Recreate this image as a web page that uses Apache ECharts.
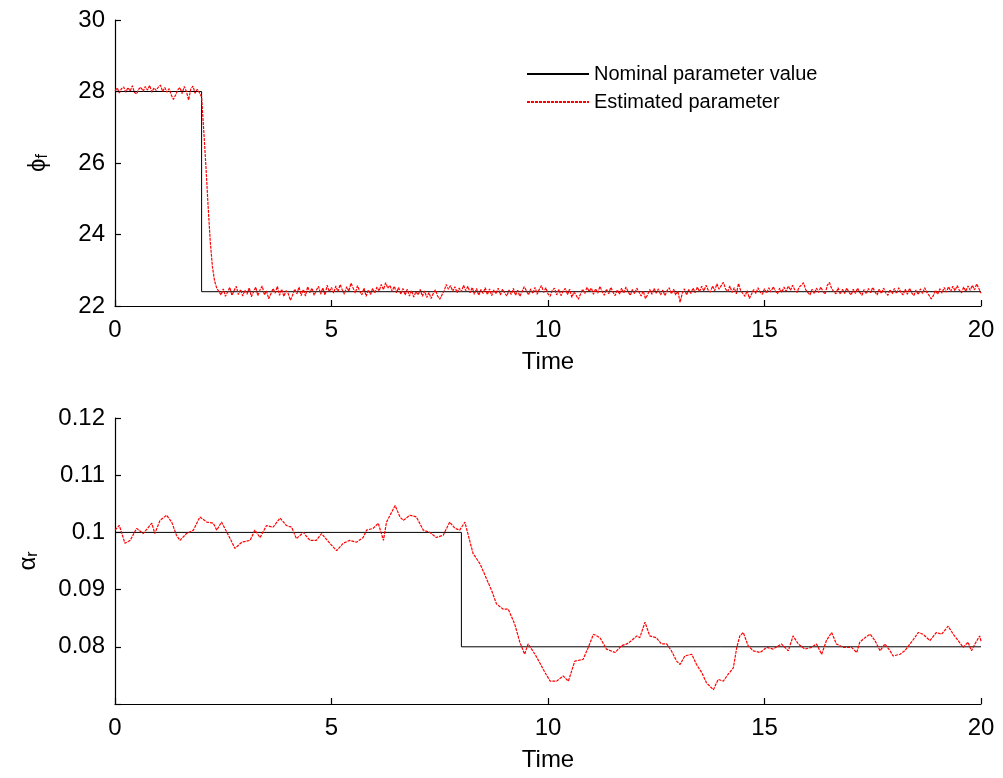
<!DOCTYPE html>
<html>
<head>
<meta charset="utf-8">
<script src="https://cdn.jsdelivr.net/npm/echarts@6/dist/echarts.min.js"></script>
<style>html,body{margin:0;padding:0;background:#fff}#c{width:1003px;height:778px}</style>
</head>
<body>
<div id="c"></div>
<script>
// ---- data ----
const xTicks = [0, 5, 10, 15, 20];
const phiTicks = [22, 24, 26, 28, 30];
const alphaTicks = [0.08, 0.09, 0.1, 0.11, 0.12];

const nominalPhiT = [0, 2, 2, 20];
const nominalPhi = [28, 28, 22.4, 22.4];
const nominalAlphaT = [0, 8, 8, 20];
const nominalAlpha = [0.1, 0.1, 0.08, 0.08];

// estimated phi_f, sampled every 0.05 time units from t = 0 to 20
const phiStep = 0.05;
const phiEst = [
28.02,28.10,27.96,28.08,28.13,27.98,28.11,28.01,28.16,27.97,27.93,28.07,28.12,28.00,28.14,28.04,28.17,27.98,28.10,28.03,
28.12,28.18,28.00,28.11,27.98,28.08,27.90,27.78,27.90,28.05,28.11,27.94,28.14,28.00,27.76,28.07,28.15,27.95,28.06,27.97,
27.85,26.90,25.90,24.80,23.80,23.10,22.70,22.50,22.40,22.31,22.48,22.27,22.39,22.52,22.30,22.43,22.55,22.32,22.46,22.28,
22.44,22.33,22.51,22.26,22.40,22.53,22.29,22.45,22.56,22.31,22.42,22.20,22.34,22.49,22.36,22.55,22.30,22.47,22.27,22.43,
22.35,22.16,22.30,22.47,22.34,22.53,22.29,22.46,22.28,22.54,22.37,22.50,22.30,22.44,22.55,22.33,22.51,22.31,22.58,22.40,
22.52,22.36,22.56,22.40,22.60,22.45,22.33,22.54,22.41,22.64,22.50,22.36,22.57,22.42,22.31,22.50,22.27,22.45,22.32,22.49,
22.36,22.53,22.42,22.60,22.46,22.65,22.50,22.58,22.41,22.55,22.37,22.52,22.33,22.49,22.31,22.47,22.28,22.43,22.25,22.40,
22.31,22.46,22.27,22.42,22.24,22.38,22.21,22.35,22.45,22.28,22.19,22.31,22.42,22.60,22.47,22.57,22.41,22.54,22.37,22.50,
22.40,22.58,22.43,22.55,22.37,22.52,22.33,22.49,22.30,22.46,22.35,22.51,22.32,22.48,22.29,22.45,22.34,22.50,22.31,22.47,
22.36,22.28,22.45,22.32,22.49,22.30,22.44,22.27,22.40,22.54,22.43,22.31,22.48,22.35,22.52,22.33,22.47,22.57,22.38,22.51,
22.34,22.27,22.44,22.50,22.31,22.46,22.29,22.42,22.49,22.32,22.47,22.24,22.39,22.30,22.19,22.33,22.47,22.35,22.52,22.41,
22.50,22.33,22.48,22.36,22.55,22.40,22.30,22.47,22.34,22.52,22.39,22.29,22.45,22.33,22.50,22.36,22.53,22.40,22.30,22.46,
22.34,22.50,22.39,22.28,22.42,22.21,22.31,22.46,22.33,22.49,22.36,22.48,22.31,22.45,22.29,22.43,22.51,22.34,22.47,22.31,
22.42,22.10,22.35,22.48,22.31,22.46,22.35,22.50,22.37,22.53,22.40,22.55,22.42,22.58,22.44,22.39,22.56,22.43,22.62,22.47,
22.57,22.66,22.48,22.40,22.56,22.38,22.51,22.34,22.63,22.43,22.35,22.27,22.43,22.21,22.33,22.46,22.35,22.51,22.39,22.33,
22.48,22.36,22.51,22.39,22.54,22.42,22.34,22.50,22.38,22.53,22.41,22.56,22.44,22.58,22.45,22.38,22.53,22.58,22.65,22.46,
22.38,22.31,22.47,22.35,22.50,22.38,22.53,22.41,22.33,22.58,22.66,22.49,22.40,22.34,22.51,22.33,22.47,22.35,22.50,22.38,
22.31,22.47,22.35,22.50,22.38,22.30,22.46,22.34,22.49,22.37,22.52,22.40,22.31,22.47,22.35,22.50,22.37,22.30,22.46,22.34,
22.49,22.35,22.51,22.38,22.31,22.47,22.33,22.49,22.37,22.29,22.45,22.32,22.48,22.35,22.51,22.38,22.30,22.20,22.29,22.44,
22.33,22.48,22.36,22.52,22.39,22.54,22.41,22.55,22.43,22.57,22.44,22.37,22.53,22.41,22.56,22.44,22.58,22.45,22.62,22.49,
22.36
];

// estimated alpha_r, read at irregular times
const alphaT = [
0,0.1,0.23,0.35,0.5,0.65,0.85,0.92,1.04,1.19,1.31,1.42,1.5,1.65,1.81,1.96,2.12,2.27,2.35,2.46,
2.62,2.77,2.93,3.12,3.23,3.35,3.5,3.65,3.81,3.96,4.08,4.19,4.35,4.5,4.65,4.77,4.96,5.12,5.27,5.42,
5.58,5.73,5.81,5.96,6.08,6.2,6.27,6.47,6.58,6.66,6.81,6.96,7.12,7.27,7.42,7.58,7.73,7.85,7.96,8.08,
8.19,8.27,8.43,8.58,8.7,8.81,8.96,9.08,9.23,9.35,9.46,9.54,9.7,9.81,9.93,10.05,10.2,10.35,10.47,10.62,
10.81,10.93,11.05,11.2,11.35,11.55,11.7,11.82,11.93,12.05,12.12,12.24,12.35,12.5,12.62,12.74,12.85,12.97,13.05,13.16,
13.32,13.43,13.55,13.66,13.82,13.93,14.05,14.16,14.28,14.36,14.43,14.51,14.62,14.74,14.9,15.05,15.2,15.39,15.55,15.66,
15.78,15.93,16.09,16.2,16.32,16.43,16.55,16.66,16.82,17.01,17.13,17.2,17.32,17.44,17.55,17.67,17.78,17.9,17.97,18.13,
18.24,18.36,18.47,18.55,18.66,18.82,18.97,19.09,19.24,19.36,19.47,19.59,19.7,19.78,19.86,19.97,20
];
const alphaEst = [
0.1004,0.1012,0.0981,0.0986,0.1007,0.0998,0.1016,0.0998,0.1021,0.1030,0.1018,0.0995,0.0986,0.0998,0.1004,0.1027,0.1018,0.1016,0.1004,0.1018,
0.0995,0.0972,0.0983,0.0986,0.1004,0.0991,0.1012,0.1009,0.1025,0.1012,0.1009,0.0989,0.1000,0.0986,0.0986,0.0998,0.0981,0.0968,0.0981,0.0986,
0.0983,0.0991,0.1004,0.1007,0.1016,0.0986,0.1018,0.1047,0.1027,0.1021,0.1030,0.1027,0.1004,0.1000,0.0991,0.0995,0.1018,0.1007,0.1004,0.1018,
0.0986,0.0963,0.0945,0.0919,0.0898,0.0875,0.0866,0.0866,0.0840,0.0808,0.0787,0.0805,0.0787,0.0772,0.0755,0.0740,0.0740,0.0749,0.0740,0.0775,
0.0778,0.0799,0.0822,0.0816,0.0796,0.0790,0.0802,0.0805,0.0811,0.0819,0.0816,0.0843,0.0819,0.0816,0.0805,0.0805,0.0793,0.0775,0.0769,0.0784,
0.0787,0.0769,0.0755,0.0737,0.0725,0.0743,0.0740,0.0752,0.0763,0.0799,0.0819,0.0825,0.0802,0.0793,0.0790,0.0799,0.0796,0.0805,0.0793,0.0819,
0.0805,0.0796,0.0799,0.0805,0.0787,0.0811,0.0825,0.0805,0.0799,0.0799,0.0790,0.0808,0.0816,0.0822,0.0811,0.0793,0.0805,0.0793,0.0784,0.0787,
0.0793,0.0805,0.0816,0.0825,0.0822,0.0811,0.0825,0.0822,0.0836,0.0822,0.0811,0.0799,0.0808,0.0793,0.0805,0.0819,0.0810
];

// ---- build ----
const pairs = (xs, ys) => xs.map((x, i) => [x, ys[i]]);
const phiEstData = phiEst.map((v, i) => [+(i * phiStep).toFixed(2), v]);

const FONT = 'Liberation Sans';
const axisCommon = {
  axisLine: { show: true, onZero: false, lineStyle: { color: '#000', width: 1.2 } },
  axisTick: { show: true, inside: true, length: 6, lineStyle: { color: '#000', width: 1.2 } },
  splitLine: { show: false },
  axisLabel: { color: '#000', fontSize: 24, fontFamily: FONT }
};

const xAxisFor = (idx) => Object.assign({}, axisCommon, {
  type: 'value', gridIndex: idx, min: xTicks[0], max: xTicks[xTicks.length - 1], interval: 5,
  name: 'Time', nameLocation: 'middle', nameGap: 44,
  nameTextStyle: { color: '#000', fontSize: 24, fontFamily: FONT },
  axisLabel: Object.assign({}, axisCommon.axisLabel, { margin: 12 })
});

const option = {
  backgroundColor: '#fff',
  animation: false,
  grid: [
    { left: 115, top: 20, width: 866, height: 286 },
    { left: 115, top: 418, width: 866, height: 286 }
  ],
  legend: {
    orient: 'vertical', left: 521, top: 59, itemWidth: 62, itemHeight: 12, itemGap: 8,
    textStyle: { color: '#000', fontSize: 20, fontFamily: FONT },
    itemStyle: { opacity: 0 },
    data: ['Nominal parameter value', 'Estimated parameter']
  },
  xAxis: [xAxisFor(0), xAxisFor(1)],
  yAxis: [
    Object.assign({}, axisCommon, {
      type: 'value', gridIndex: 0, min: phiTicks[0], max: phiTicks[phiTicks.length - 1], interval: 2,
      name: '{a|ϕ}{b|f}', nameLocation: 'middle', nameGap: 64, nameRotate: 90,
      nameTextStyle: { color: '#000', fontFamily: FONT,
        rich: { a: { fontSize: 24, fontFamily: FONT, color: '#000' },
                b: { fontSize: 16, fontFamily: FONT, color: '#000', padding: [10, 0, 0, 0] } } },
      axisLabel: Object.assign({}, axisCommon.axisLabel, { margin: 10 })
    }),
    Object.assign({}, axisCommon, {
      type: 'value', gridIndex: 1, min: 0.07, max: alphaTicks[alphaTicks.length - 1], interval: 0.01,
      name: '{a|α}{b|r}', nameLocation: 'middle', nameGap: 74, nameRotate: 90,
      nameTextStyle: { color: '#000', fontFamily: FONT,
        rich: { a: { fontSize: 24, fontFamily: FONT, color: '#000' },
                b: { fontSize: 16, fontFamily: FONT, color: '#000', padding: [10, 0, 0, 0] } } },
      axisLabel: Object.assign({}, axisCommon.axisLabel, { margin: 10,
        formatter: v => (alphaTicks.some(t => Math.abs(t - v) < 1e-6) ? String(+v.toFixed(2)) : '') })
    })
  ],
  series: [
    { name: 'Nominal parameter value', type: 'line', xAxisIndex: 0, yAxisIndex: 0, symbol: 'none',
      data: pairs(nominalPhiT, nominalPhi), lineStyle: { color: '#000', width: 1 }, itemStyle: { color: '#000' }, z: 2 },
    { name: 'Estimated parameter', type: 'line', xAxisIndex: 0, yAxisIndex: 0, symbol: 'none',
      data: phiEstData, lineStyle: { color: '#ff0000', width: 1.2, type: [3, 1] }, itemStyle: { color: '#ff0000' }, z: 3 },
    { name: 'Nominal parameter value', type: 'line', xAxisIndex: 1, yAxisIndex: 1, symbol: 'none',
      data: pairs(nominalAlphaT, nominalAlpha), lineStyle: { color: '#000', width: 1 }, itemStyle: { color: '#000' }, z: 2 },
    { name: 'Estimated parameter', type: 'line', xAxisIndex: 1, yAxisIndex: 1, symbol: 'none',
      data: pairs(alphaT, alphaEst), lineStyle: { color: '#ff0000', width: 1.2, type: [3, 1] }, itemStyle: { color: '#ff0000' }, z: 3 }
  ]
};

const chart = echarts.init(document.getElementById('c'), null, { renderer: 'canvas' });
chart.setOption(option);
</script>
</body>
</html>
